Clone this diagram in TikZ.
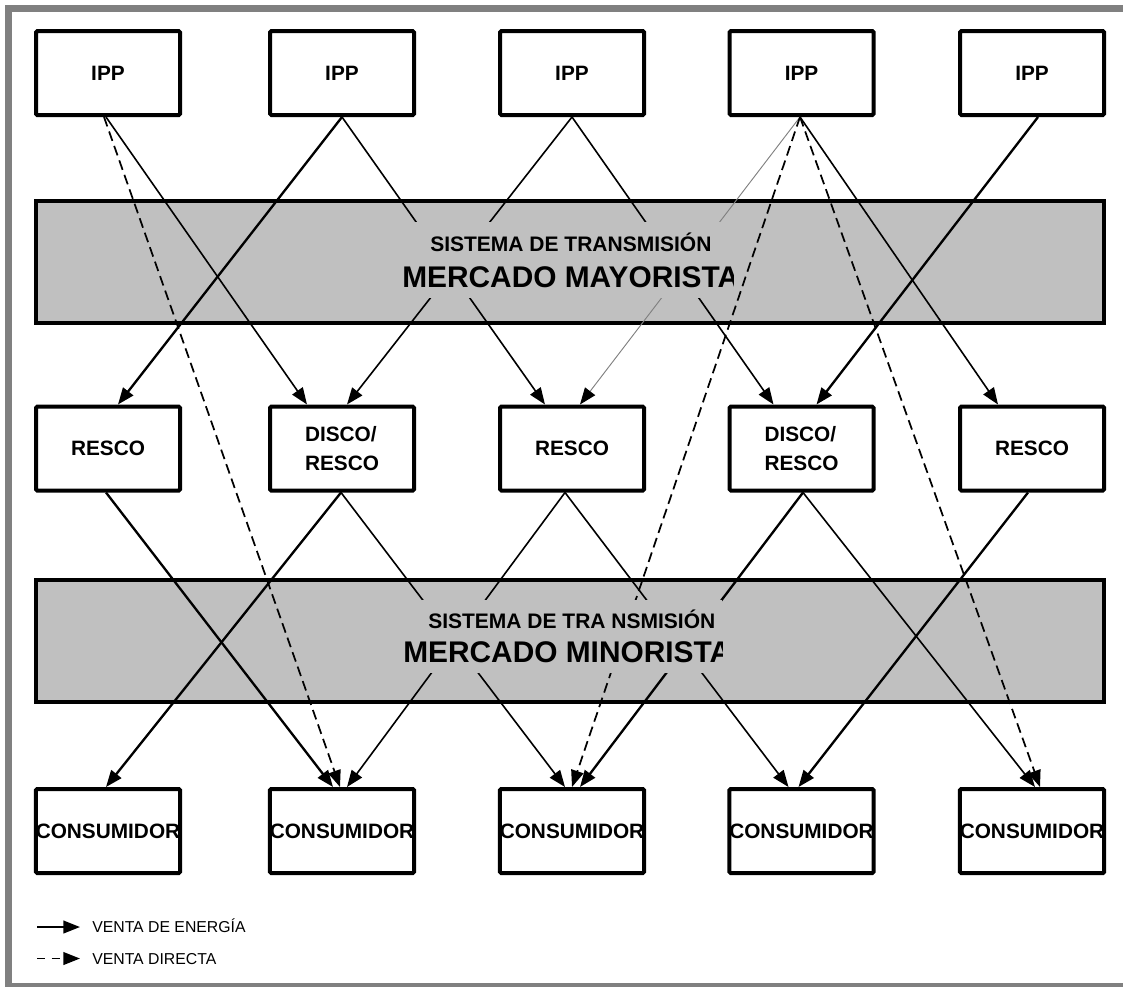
\documentclass[tikz,border=0pt]{standalone}
\usepackage{fontspec}
\setmainfont{Liberation Sans}
\usetikzlibrary{arrows.meta,calc}
\definecolor{bandgray}{RGB}{192,192,192}
\definecolor{framegray}{RGB}{128,128,128}
\tikzset{
  unit/.style={draw, line width=3pt, rounded corners=1pt, fill=white,
    minimum width=108pt, minimum height=63pt, inner sep=0pt,
    font=\fontsize{15.6}{21.75}\selectfont\bfseries},
  band/.style={draw, line width=3pt, fill=bandgray,
    minimum width=801pt, minimum height=91.5pt, inner sep=0pt},
  tip/.style={-{Triangle[length=12.5pt,width=9.5pt,color=black]}},
  thickln/.style={tip, line width=1.75pt},
  thinln/.style={tip, line width=1.2pt},
  faintln/.style={tip, line width=0.7pt, draw=gray},
  direct/.style={tip, line width=1.3pt, dash pattern=on 7.5pt off 4pt},
  bandtxt/.style={anchor=base west, inner sep=0pt, font=\fontsize{15.75}{18}\selectfont\bfseries},
  bandbig/.style={anchor=base west, inner sep=0pt, font=\fontsize{22.4}{24}\selectfont\bfseries},
  legtxt/.style={anchor=base west, inner sep=0pt, font=\fontsize{11.85}{14}\selectfont},
}
\begin{document}
\begin{tikzpicture}[x=0.75pt, y=-0.75pt]
\useasboundingbox (0,0) rectangle (1123,986);
\clip (0,0) rectangle (1123,986);

% outer frame (open on the right)
\draw[framegray, line width=5.25pt] (8.5,8) rectangle (1140,986.5);

% the two transmission bands
\node[band] (band1) at (570,262) {};
\node[band] (band2) at (570,640.5) {};

% generators
\node[unit] (ipp1) at (108,73) {IPP};
\node[unit] (ipp2) at (342,73) {IPP};
\node[unit] (ipp3) at (572,73) {IPP};
\node[unit] (ipp4) at (801.5,73) {IPP};
\node[unit] (ipp5) at (1032,73) {IPP};

% retailers / distributors
\node[unit] (resco1) at (108,448.5) {RESCO};
\node[unit, align=left] (disco2) at (342,448.5) {DISCO/\\RESCO};
\node[unit] (resco3) at (572,448.5) {RESCO};
\node[unit, align=left] (disco4) at (801.5,448.5) {DISCO/\\RESCO};
\node[unit] (resco5) at (1032,448.5) {RESCO};

% consumers
\node[unit] (cons1) at (108,831) {CONSUMIDOR};
\node[unit] (cons2) at (342,831) {CONSUMIDOR};
\node[unit] (cons3) at (572,831) {CONSUMIDOR};
\node[unit] (cons4) at (801.5,831) {CONSUMIDOR};
\node[unit] (cons5) at (1032,831) {CONSUMIDOR};

% energy sales: generators -> retailers
\draw[thinln]  ($(ipp1.south)+(-2,0)$) -- ($(disco2.north)+(-35,0)$);
\draw[thickln] (ipp2.south) -- ($(resco1.north)+(10,0)$);
\draw[thinln]  (ipp2.south) -- ($(resco3.north)+(-27,0)$);
\draw[thinln]  (ipp3.south) -- ($(disco2.north)+(5,0)$);
\draw[thinln]  (ipp3.south) -- ($(disco4.north)+(-28,0)$);
\draw[faintln] ($(ipp4.south)+(-1.5,0)$) -- ($(resco3.north)+(8,0)$);
\draw[thinln]  ($(ipp4.south)+(-1.5,0)$) -- ($(resco5.north)+(-34,0)$);
\draw[thickln] ($(ipp5.south)+(6,0)$) -- ($(disco4.north)+(15,0)$);

% energy sales: retailers -> consumers
\draw[thickln] ($(resco1.south)+(-2,0)$) -- ($(cons2.north)+(-9,0)$);
\draw[thickln] ($(disco2.south)+(-1,0)$) -- ($(cons1.north)+(-2,0)$);
\draw[thinln]  ($(disco2.south)+(-1,0)$) -- ($(cons3.north)+(-7,0)$);
\draw[thinln]  ($(resco3.south)+(-7,0)$) -- ($(cons2.north)+(5,0)$);
\draw[thinln]  ($(resco3.south)+(-7,0)$) -- ($(cons4.north)+(-13,0)$);
\draw[thickln] ($(disco4.south)+(1.5,0)$) -- ($(cons3.north)+(8,0)$);
\draw[thinln]  ($(disco4.south)+(1.5,0)$) -- ($(cons5.north)+(3,0)$);
\draw[thickln] ($(resco5.south)+(-4,0)$) -- ($(cons4.north)+(-3,0)$);

% direct sales: generators -> consumers
\draw[direct] ($(ipp1.south)+(-4,0)$) -- ($(cons2.north)+(-2,0)$);
\draw[direct] ($(ipp4.south)+(-1.5,0)$) -- (cons3.north);
\draw[direct] ($(ipp4.south)+(-1.5,0)$) -- ($(cons5.north)+(8,0)$);

% band captions on a grey patch that hides the crossing lines
\begin{scope}
  \clip (398,222) rectangle (733,298);
  \fill[bandgray] (398,222) rectangle (733,298);
  \node[bandtxt] (w1) at (430,251.5) {SISTEMA DE TRANSMISIÓN};
  \node[bandbig] (w2) at (402,287.4) {MERCADO MAYORISTA};
\end{scope}
\begin{scope}
  \clip (400,600) rectangle (722,673);
  \fill[bandgray] (400,600) rectangle (722,673);
  \node[bandtxt] (r1) at (428,628.5) {SISTEMA DE TRA NSMISIÓN};
  \node[bandbig] (r2) at (403,662.4) {MERCADO MINORISTA};
\end{scope}

% legend
\coordinate (la) at (37,927);
\coordinate (lb) at (80,927);
\coordinate (lc) at (37,958.5);
\coordinate (ld) at (80,958.5);
\draw[tip, line width=1.6pt] (la) -- (lb);
\draw[tip, line width=1.4pt, dash pattern=on 6pt off 5pt] (lc) -- (ld);
\node[legtxt] (leg1) at (92,932.6) {VENTA DE ENERGÍA};
\node[legtxt] (leg2) at (92,964) {VENTA DIRECTA};
\end{tikzpicture}
\end{document}
